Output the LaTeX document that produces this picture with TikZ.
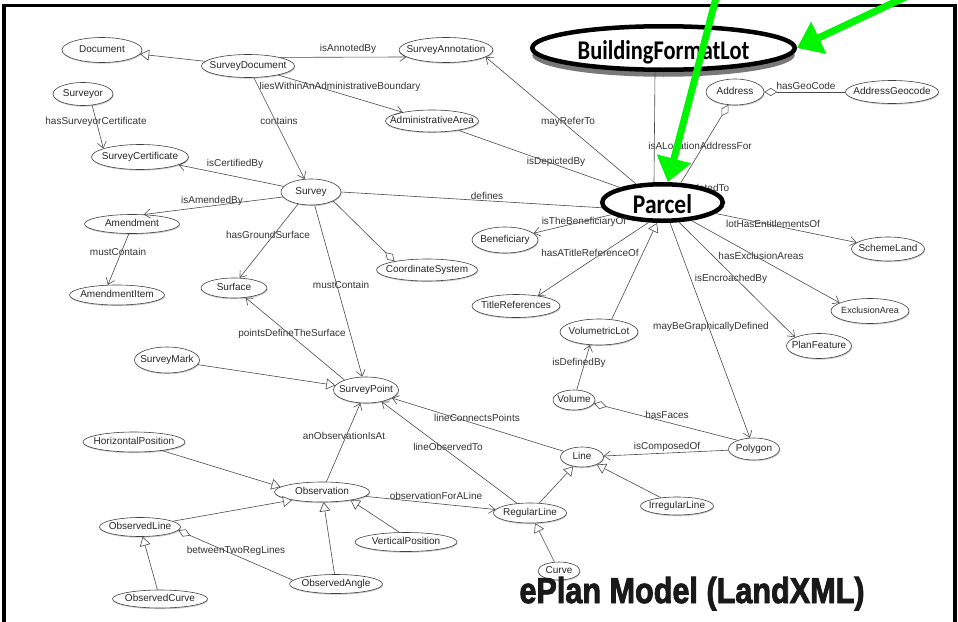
\documentclass[tikz,border=0pt]{standalone}
\usepackage{fontspec}
\usepackage{graphicx}
\setmainfont{Liberation Sans}
\newfontfamily\calib{Carlito}
\newfontfamily\titlefont{Liberation Sans}[BoldFeatures={FakeBold=2.5}]
\usetikzlibrary{shapes.geometric,arrows.meta,shadows,calc}
\definecolor{limegreen}{RGB}{0,245,0}
\definecolor{edgec}{RGB}{75,75,75}
\newcommand\zw[1]{\makebox[0pt]{#1}}
\begin{document}
\begin{tikzpicture}[x=1pt,y=-1pt,font=\fontsize{10}{11.5}\selectfont,
 ent/.style={ellipse, draw=black!75, line width=0.6pt, fill=white, inner sep=0pt,
   text=black!85, text height=7pt, text depth=2pt,
   drop shadow={shadow xshift=0.6pt, shadow yshift=-1.2pt, opacity=0.4}},
 big/.style={ellipse, draw=black, line width=4.5pt, fill=white, inner sep=0pt,
   text height=22pt, text depth=0pt,
   font=\calib\bfseries\fontsize{27}{30}\selectfont},
 lbl/.style={text=black!80, inner sep=0.5pt, text height=7pt, text depth=2pt},
 rel/.style={draw=edgec, line width=0.6pt},
 assoc/.style={rel, -{Straight Barb[length=6pt,width=9pt]}},
 gen/.style={rel, -{Triangle[open,length=9pt,width=11pt,fill=white]}},
 agg/.style={rel, {Diamond[open,length=13pt,width=8pt,fill=white]}-},
 aggend/.style={rel, -{Diamond[open,length=13pt,width=8pt,fill=white]}},
 greenarrow/.style={draw=limegreen, line width=7pt, -{Triangle[length=24pt,width=34pt,fill=limegreen]}},
]
\useasboundingbox (0,0) rectangle (958,621);
\fill[white] (0,0) rectangle (958,621);
\draw[line width=3.5pt] (4,630) -- (4,5.5) -- (955,5.5) -- (955,630);

% label partly hidden behind Parcel
\node[lbl] (lrel) at (703,189) {isRelatedTo};

% entities
\node[ent, minimum width=80, minimum height=25] (Document) at (102,50) {\zw{Document}};
\node[ent, minimum width=93, minimum height=23] (SurveyDocument) at (248,66) {\zw{SurveyDocument}};
\node[ent, minimum width=94, minimum height=25] (SurveyAnnotation) at (446,50) {\zw{SurveyAnnotation}};
\node[ent, minimum width=58, minimum height=26] (Address) at (735,92) {\zw{Address}};
\node[ent, minimum width=93, minimum height=23] (AddressGeocode) at (892,92) {\zw{AddressGeocode}};
\node[ent, minimum width=60, minimum height=23] (Surveyor) at (83,94) {\zw{Surveyor}};
\node[ent, minimum width=93, minimum height=22] (AdministrativeArea) at (432,121) {\zw{AdministrativeArea}};
\node[ent, minimum width=97, minimum height=25] (SurveyCertificate) at (140,157) {\zw{SurveyCertificate}};
\node[ent, minimum width=60, minimum height=26] (Survey) at (311,192) {\zw{Survey}};
\node[ent, minimum width=95, minimum height=19] (Amendment) at (132,224) {\zw{Amendment}};
\node[ent, minimum width=95, minimum height=20] (AmendmentItem) at (117,295) {\zw{AmendmentItem}};
\node[ent, minimum width=66, minimum height=20] (Surface) at (234,288) {\zw{Surface}};
\node[ent, minimum width=66, minimum height=26] (Beneficiary) at (505,240) {\zw{Beneficiary}};
\node[ent, minimum width=101, minimum height=22] (CoordinateSystem) at (427,270) {\zw{CoordinateSystem}};
\node[ent, minimum width=88, minimum height=23] (TitleReferences) at (516,306) {\zw{TitleReferences}};
\node[ent, minimum width=73, minimum height=24] (SchemeLand) at (888,249) {\zw{SchemeLand}};
\node[ent, minimum width=78, minimum height=25] (ExclusionArea) at (870,311) {\zw{\fontsize{9}{10}\selectfont ExclusionArea}};
\node[ent, minimum width=65, minimum height=25] (PlanFeature) at (819,346) {\zw{PlanFeature}};
\node[ent, minimum width=78, minimum height=26] (VolumetricLot) at (599,332) {\zw{VolumetricLot}};
\node[ent, minimum width=65, minimum height=26] (SurveyMark) at (167,360) {\zw{SurveyMark}};
\node[ent, minimum width=65, minimum height=26] (SurveyPoint) at (366,390) {\zw{SurveyPoint}};
\node[ent, minimum width=42, minimum height=20] (Volume) at (574,400) {\zw{Volume}};
\node[ent, minimum width=51, minimum height=22] (Polygon) at (754,449) {\zw{Polygon}};
\node[ent, minimum width=43, minimum height=20] (Line) at (582,457) {\zw{Line}};
\node[ent, minimum width=102, minimum height=20] (HorizontalPosition) at (134,442) {\zw{HorizontalPosition}};
\node[ent, minimum width=95, minimum height=20] (Observation) at (322,492) {\zw{Observation}};
\node[ent, minimum width=73, minimum height=20] (RegularLine) at (530,513) {\zw{RegularLine}};
\node[ent, minimum width=73, minimum height=18] (IrregularLine) at (677,506) {\zw{IrregularLine}};
\node[ent, minimum width=81, minimum height=19] (ObservedLine) at (140,527) {\zw{ObservedLine}};
\node[ent, minimum width=102, minimum height=19] (VerticalPosition) at (406,542) {\zw{VerticalPosition}};
\node[ent, minimum width=42, minimum height=18] (Curve) at (559,571) {\zw{Curve}};
\node[ent, minimum width=93, minimum height=19] (ObservedAngle) at (336,584) {\zw{ObservedAngle}};
\node[ent, minimum width=95, minimum height=18] (ObservedCurve) at (160,599) {\zw{ObservedCurve}};

% highlighted entities
\node[big, minimum width=262.5, minimum height=43.5,
  drop shadow={shadow xshift=0pt, shadow yshift=-7pt, fill=black!75, opacity=0.7}]
  (BFL) at (663.5,48) {\zw{\scalebox{0.83}[1]{BuildingFormatLot}}};
\node[big, minimum width=120.5, minimum height=36.5, text height=21pt] (Parcel) at (662.5,202.5) {\zw{\scalebox{0.87}[1]{Parcel}}};

% relation labels
\node[lbl] (l1) at (348,49) {isAnnotedBy};
\node[lbl] (l2) at (340,87) {liesWithinAnAdministrativeBoundary};
\node[lbl] (l3) at (279,122) {contains};
\node[lbl] (l4) at (96,122) {hasSurveyorCertificate};
\node[lbl] (l5) at (235,164) {isCertifiedBy};
\node[lbl] (l6) at (212,201) {isAmendedBy};
\node[lbl] (l7) at (118,253) {mustContain};
\node[lbl] (l8) at (268,236) {hasGroundSurface};
\node[lbl] (l9) at (341,286) {mustContain};
\node[lbl] (l10) at (292,334) {pointsDefineTheSurface};
\node[lbl] (l11) at (487,197) {defines};
\node[lbl] (l12) at (556,162) {isDepictedBy};
\node[lbl] (l13) at (568,122) {mayReferTo};
\node[lbl] (l14) at (700,147) {isALocationAddressFor};
\node[lbl] (l15) at (806,87) {hasGeoCode};
\node[lbl] (l16) at (584,222) {isTheBeneficiaryOf};
\node[lbl] (l17) at (590,254) {hasATitleReferenceOf};
\node[lbl] (l18) at (773,225) {lotHasEntitlementsOf};
\node[lbl] (l19) at (761,257) {hasExclusionAreas};
\node[lbl] (l20) at (731,279) {isEncroachedBy};
\node[lbl] (l21) at (711,327) {mayBeGraphicallyDefined};
\node[lbl] (l22) at (579,363) {isDefinedBy};
\node[lbl] (l23) at (667,416) {hasFaces};
\node[lbl] (l24) at (667,447) {isComposedOf};
\node[lbl] (l25) at (477,419) {lineConnectsPoints};
\node[lbl] (l26) at (448,448) {lineObservedTo};
\node[lbl] (l27) at (344,437) {anObservationIsAt};
\node[lbl] (l28) at (436,497) {observationForALine};
\node[lbl] (l29) at (236,551) {betweenTwoRegLines};

% relations
\draw[gen] (SurveyDocument) -- (Document);
\draw[assoc] (SurveyDocument.15) -- (SurveyAnnotation.190);
\draw[assoc] (SurveyDocument) -- (AdministrativeArea);
\draw[assoc] (SurveyDocument) -- (Survey);
\draw[assoc] (Surveyor.-51) -- (SurveyCertificate.167);
\draw[assoc] (Survey) -- (SurveyCertificate);
\draw[assoc] (Survey.190) -- (Amendment.39);
\draw[assoc] (Amendment.-108) -- (AmendmentItem.132);
\draw[assoc] (Survey.-137) -- (Surface.61);
\draw[aggend] (Survey.-22) -- (CoordinateSystem.165);
\draw[assoc] (Survey) -- (SurveyPoint);
\draw[rel] (Survey.east) -- (Parcel.185);
\draw[rel] (AdministrativeArea) -- (Parcel);
\draw[assoc] (Parcel.145) -- (SurveyAnnotation.-10);
\draw[rel] ([xshift=-8.5pt]BFL.south) -- ([xshift=-8.5pt]Parcel.north);
\draw[agg] (Address.-117) -- (Parcel.47);
\draw[agg] (Address) -- (AddressGeocode);
\draw[assoc] (Parcel) -- (Beneficiary);
\draw[assoc] (Parcel.-125) -- (TitleReferences.25);
\draw[gen] (VolumetricLot.45) -- (Parcel.-105);
\draw[assoc] (Parcel) -- (SchemeLand);
\draw[assoc] (Parcel.-32) -- (ExclusionArea.165);
\draw[assoc] (Parcel.-50) -- (PlanFeature.160);
\draw[assoc] (Parcel) -- (Polygon);
\draw[assoc] (Volume.75) -- (VolumetricLot.-125);
\draw[agg] (Volume.-10) -- (Polygon.152);
\draw[assoc] (Polygon) -- (Line);
\draw[assoc] (Line) -- (SurveyPoint);
\draw[gen] (RegularLine) -- (Line);
\draw[gen] (IrregularLine) -- (Line);
\draw[assoc] (RegularLine) -- (SurveyPoint);
\draw[assoc] (Observation) -- (SurveyPoint);
\draw[gen] (SurveyMark) -- (SurveyPoint);
\draw[assoc] (SurveyPoint.155) -- (Surface);
\draw[gen] (HorizontalPosition) -- (Observation.173);
\draw[gen] (ObservedLine.10) -- (Observation.-165);
\draw[agg] (ObservedLine.-5) -- (ObservedAngle.175);
\draw[gen] (ObservedCurve) -- (ObservedLine);
\draw[gen] (ObservedAngle) -- (Observation);
\draw[gen] (VerticalPosition.124) -- (Observation.-16);
\draw[assoc] (Observation) -- (RegularLine);
\draw[gen] (Curve) -- (RegularLine);

% title
\node[anchor=base, text=black!90, inner sep=0pt, font=\titlefont\bfseries\fontsize{36}{40}\selectfont]
  (title) at (692,603) {\scalebox{0.85}[1]{ePlan Model (LandXML)}};

% green pointer arrows
\coordinate (g1) at (717,-6);
\coordinate (g2) at (912,-6);
\draw[greenarrow] (g1) -- (Parcel);
\draw[greenarrow] (g2) -- (BFL.east);
\end{tikzpicture}
\end{document}
